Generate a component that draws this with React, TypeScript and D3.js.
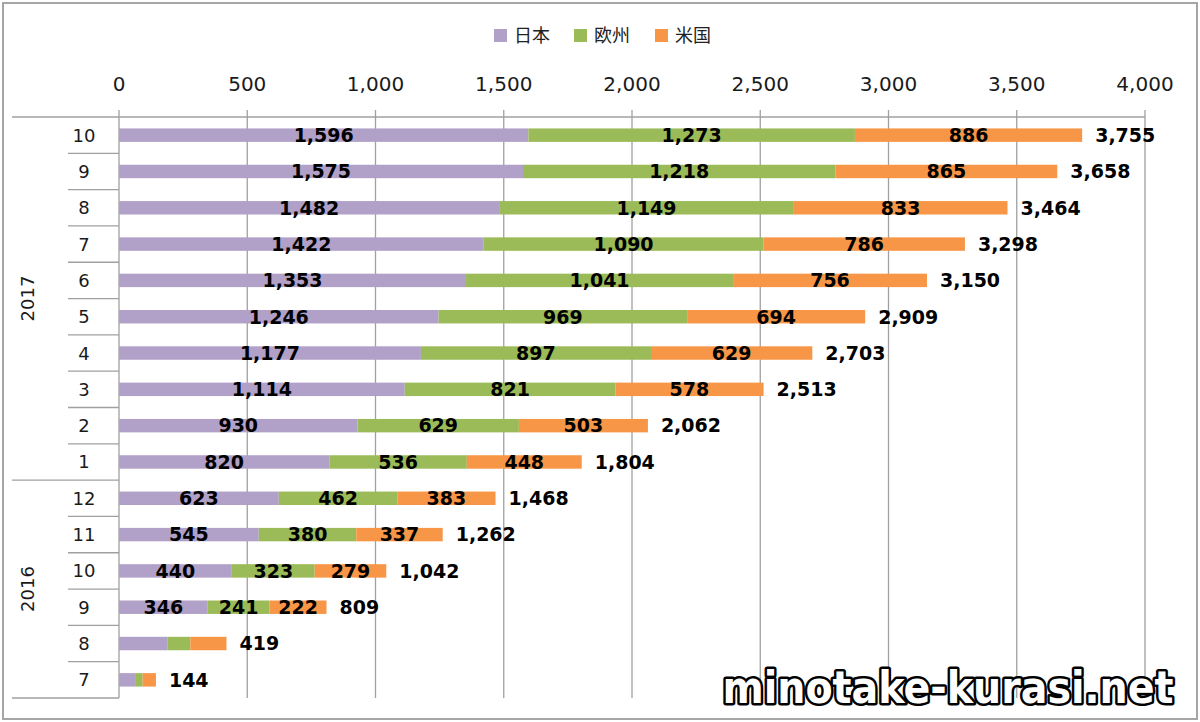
import React from 'react';
import * as d3 from 'd3';

const yearGroups = [
  { year: '2017', months: ['10', '9', '8', '7', '6', '5', '4', '3', '2', '1'] },
  { year: '2016', months: ['12', '11', '10', '9', '8', '7'] },
];
const seriesNames = ['日本', '欧州', '米国'];
const seriesColors = ['#B1A0C7', '#9BBB59', '#F79646'];
const japan = [1596, 1575, 1482, 1422, 1353, 1246, 1177, 1114, 930, 820, 623, 545, 440, 346, 190, 66];
const europe = [1273, 1218, 1149, 1090, 1041, 969, 897, 821, 629, 536, 462, 380, 323, 241, 88, 26];
const usa = [886, 865, 833, 786, 756, 694, 629, 578, 503, 448, 383, 337, 279, 222, 141, 52];
const totals = [3755, 3658, 3464, 3298, 3150, 2909, 2703, 2513, 2062, 1804, 1468, 1262, 1042, 809, 419, 144];
const segmentLabelled = [true, true, true, true, true, true, true, true, true, true, true, true, true, true, false, false];
const xTicks = [0, 500, 1000, 1500, 2000, 2500, 3000, 3500, 4000];

const W = 1200;
const H = 722;
const left = 119;
const right = 1145;
const top = 117;
const bottom = 698;
const FONT = '"DejaVu Sans", Verdana, sans-serif';
const CJK = '"Noto Sans CJK JP", "Noto Sans", sans-serif';

export default function App() {
  const cats: string[] = [];
  const catMonth: string[] = [];
  yearGroups.forEach((g) =>
    g.months.forEach((m) => {
      cats.push(g.year + '-' + m);
      catMonth.push(m);
    })
  );
  const rows = cats.map((c, i) => ({ cat: c, s0: japan[i], s1: europe[i], s2: usa[i] }));
  const stack = d3.stack<any>().keys(['s0', 's1', 's2'])(rows);

  const x = d3.scaleLinear().domain([0, 4000]).range([left, right]);
  const y = d3.scaleBand<string>().domain(cats).range([top, bottom]).paddingInner(0.63).paddingOuter(0.315);
  const step = y.step();
  const fmt = d3.format(',');

  const legendX = [494, 574, 655];

  let idx = 0;
  const groupBounds = yearGroups.map((g) => {
    const start = idx;
    idx += g.months.length;
    return { year: g.year, y0: top + start * step, y1: top + idx * step };
  });

  return (
    <svg width={W} height={H} style={{ position: 'absolute', left: 0, top: 0, background: '#fff' }}>
      <rect x={3} y={3} width={1194} height={716} fill="#fff" stroke="#a6a6a6" strokeWidth={2} />

      {/* legend */}
      {seriesNames.map((n, i) => (
        <g key={n}>
          <rect x={legendX[i]} y={29} width={13} height={13} fill={seriesColors[i]} />
          <text x={legendX[i] + 20} y={41.5} fontFamily={CJK} fontSize={18} fill="#222">
            {n}
          </text>
        </g>
      ))}

      {/* gridlines & ticks */}
      {xTicks.map((t) => (
        <g key={t}>
          <line x1={x(t)} x2={x(t)} y1={110} y2={bottom} stroke="#a0a0a0" strokeWidth={1.3} />
          <text x={x(t)} y={90.5} textAnchor="middle" fontFamily={FONT} fontSize={20} fill="#1a1a1a">
            {fmt(t)}
          </text>
        </g>
      ))}
      <line x1={12} x2={right} y1={top} y2={top} stroke="#a0a0a0" strokeWidth={1.3} />

      {/* category axis */}
      {cats.map((c, i) => {
        const y0 = top + i * step;
        return (
          <g key={c}>
            {i > 0 && !groupBounds.some((g) => Math.abs(g.y0 - y0) < 0.1) && (
              <line x1={68} x2={left} y1={y0} y2={y0} stroke="#a0a0a0" strokeWidth={1.3} />
            )}
            <text x={84} y={y0 + step / 2} dy="0.36em" textAnchor="middle" fontFamily={FONT} fontSize={18} fill="#1a1a1a">
              {catMonth[i]}
            </text>
          </g>
        );
      })}
      {groupBounds.map((g) => (
        <g key={g.year}>
          <line x1={12} x2={left} y1={g.y1} y2={g.y1} stroke="#a0a0a0" strokeWidth={1.3} />
          <text
            transform={`translate(28,${(g.y0 + g.y1) / 2}) rotate(-90)`}
            dy="0.36em"
            textAnchor="middle"
            fontFamily={FONT}
            fontSize={18}
            fill="#1a1a1a"
          >
            {g.year}
          </text>
        </g>
      ))}

      {/* bars */}
      {stack.map((layer, si) => (
        <g key={si} fill={seriesColors[si]}>
          {layer.map((d: any, i: number) => (
            <rect key={i} x={x(d[0])} y={y(cats[i])} width={x(d[1]) - x(d[0])} height={y.bandwidth()} />
          ))}
        </g>
      ))}
      {/* segment labels */}
      {stack.map((layer, si) => (
        <g key={'l' + si}>
          {layer.map((d: any, i: number) =>
            segmentLabelled[i] ? (
              <text
                key={i}
                x={(x(d[0]) + x(d[1])) / 2}
                y={(y(cats[i]) as number) + y.bandwidth() / 2}
                dy="0.36em"
                textAnchor="middle"
                fontFamily={FONT}
                fontWeight="bold"
                fontSize={19}
                fill="#000"
              >
                {fmt(d[1] - d[0])}
              </text>
            ) : null
          )}
        </g>
      ))}
      {/* totals */}
      {totals.map((t, i) => (
        <text
          key={'t' + i}
          x={x(t) + 13}
          y={(y(cats[i]) as number) + y.bandwidth() / 2}
          dy="0.36em"
          fontFamily={FONT}
          fontWeight="bold"
          fontSize={19}
          fill="#000"
        >
          {fmt(t)}
        </text>
      ))}

      {/* watermark */}
      <text
        x={948}
        y={703}
        textAnchor="middle"
        fontFamily='"DejaVu Sans Condensed", "DejaVu Sans", sans-serif'
        fontWeight="bold"
        fontSize={44}
        fill="#fff"
        stroke="#000"
        strokeWidth={5}
        strokeLinejoin="round"
        style={{ paintOrder: 'stroke' }}
      >
        minotake-kurasi.net
      </text>
    </svg>
  );
}
